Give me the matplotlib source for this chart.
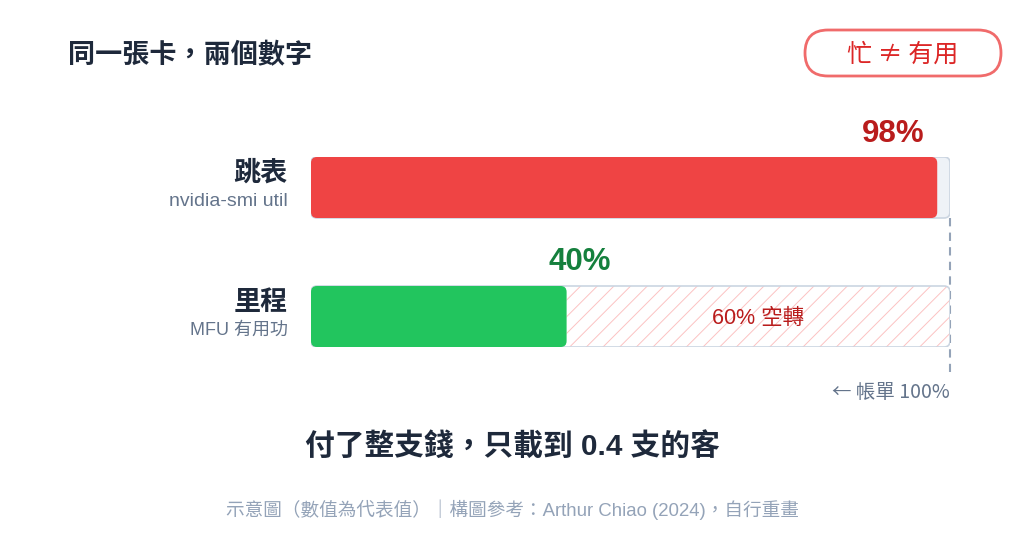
import numpy as np
import matplotlib
matplotlib.use("Agg")
import matplotlib.pyplot as plt
from matplotlib.patches import FancyBboxPatch

plt.rcParams['font.family'] = ['Liberation Sans', 'Noto Sans CJK TC', 'DejaVu Sans']
plt.rcParams['hatch.linewidth'] = 0.7
CJK_FIRST = ['Noto Sans CJK TC', 'Liberation Sans', 'DejaVu Sans']

# Data
names = ["跳表", "里程"]
subtitles = ["nvidia-smi util", "MFU 有用功"]
values = [98, 40]
bill = 100
bar_colors = ["#EF4444", "#22C55E"]
label_colors = ["#B91C1C", "#15803D"]
idle_label = f"{bill - values[1]}% 空轉"

DARK = "#1E293B"
GRAY = "#64748B"
LIGHT = "#94A3B8"

fig = plt.figure(figsize=(10.24, 5.49), dpi=100)
fig.patch.set_facecolor("white")

# bar area: x 311..950 px, y 157..347 px
ax = fig.add_axes([311 / 1024, 1 - 347 / 549, 639 / 1024, 190 / 549])
h = 61 / 129
ax.set_xlim(0, bill)
ax.set_ylim(1 + h / 2, -h / 2)
ax.axis("off")

px_x = bill / 639
px_y = h / 61
asp = px_y / px_x
rs = 6 * px_x


def rbox(x0, y0, w, hh, **kw):
    p = FancyBboxPatch((x0, y0), w, hh, boxstyle=f"round,pad=0,rounding_size={rs}",
                       mutation_aspect=asp, **kw)
    ax.add_patch(p)
    return p


for i, (v, c, lc) in enumerate(zip(values, bar_colors, label_colors)):
    y0 = i - h / 2
    track_fc = "#EEF2F7" if i == 0 else "white"
    rbox(0, y0, bill, h, facecolor=track_fc, edgecolor="none", zorder=1)
    if i == 1:
        rbox(v, y0, bill - v, h, facecolor="none", edgecolor="#FCC2C2",
             hatch="//", linewidth=0, zorder=2)
        ax.annotate(idle_label, ((v + bill) / 2, i), xytext=(0, -2),
                    textcoords="offset pixels", ha="center", va="center",
                    fontsize=15.5, color="#B91C1C", zorder=5)
    rbox(0, y0, bill, h, facecolor="none", edgecolor="#CBD5E1", linewidth=1.2, zorder=3)
    rbox(0, y0, v, h, facecolor=c, edgecolor="none", zorder=4)

    if v > 90:
        ax.annotate(f"{v}%", (v, i), xytext=(-13, 54), textcoords="offset pixels",
                    ha="right", va="center", fontsize=22.5, fontweight="bold",
                    color=lc, annotation_clip=False)
    else:
        ax.annotate(f"{v}%", (v, i), xytext=(13, 54), textcoords="offset pixels",
                    ha="center", va="center", fontsize=22.5, fontweight="bold",
                    color=lc, annotation_clip=False)

    ax.annotate(names[i], (0, i), xytext=(-23, 15), textcoords="offset pixels",
                ha="right", va="center", fontsize=19.5, fontweight="bold",
                color=DARK, family=CJK_FIRST, annotation_clip=False)
    ax.annotate(subtitles[i], (0, i), xytext=(-23, -14), textcoords="offset pixels",
                ha="right", va="center", fontsize=14 if i == 0 else 13, color=GRAY,
                annotation_clip=False)

# dashed bill line
ax.plot([bill, bill], [h / 2, 1 + h / 2 + 25 * px_y], color=LIGHT, lw=1.5,
        ls=(0, (4, 3)), clip_on=False, zorder=0)
ax.annotate(f"← 帳單 {bill}%", (bill, 1 + h / 2), xytext=(0, -45),
            textcoords="offset pixels", ha="right", va="center", fontsize=14,
            color=GRAY, family=CJK_FIRST, annotation_clip=False)

# title and badge
fig.text(68 / 1024, 1 - 55 / 549, "同一張卡，兩個數字", ha="left", va="center",
         fontsize=19.5, fontweight="bold", color=DARK, family=CJK_FIRST)
badge = FancyBboxPatch((805 / 1024, 1 - 76 / 549), 196 / 1024, 46 / 549,
                       boxstyle=f"round,pad=0,rounding_size={23 / 1024}",
                       mutation_aspect=1024 / 549, transform=fig.transFigure,
                       facecolor="white", edgecolor="#F06B6B", linewidth=2)
fig.add_artist(badge)
fig.text(903 / 1024, 1 - 55 / 549, "忙 ≠ 有用", ha="center", va="center",
         fontsize=18, color="#DC2626", family=CJK_FIRST)

fig.text(512 / 1024, 1 - 447 / 549, "付了整支錢，只載到 0.4 支的客", ha="center",
         va="center", fontsize=21.4, fontweight="bold", color=DARK)
fig.text(512 / 1024, 1 - 510 / 549,
         "示意圖（數值為代表值）｜構圖參考：Arthur Chiao (2024)，自行重畫",
         ha="center", va="center", fontsize=13.4, color=LIGHT)

fig.savefig("out.png", dpi=100, facecolor="white")
